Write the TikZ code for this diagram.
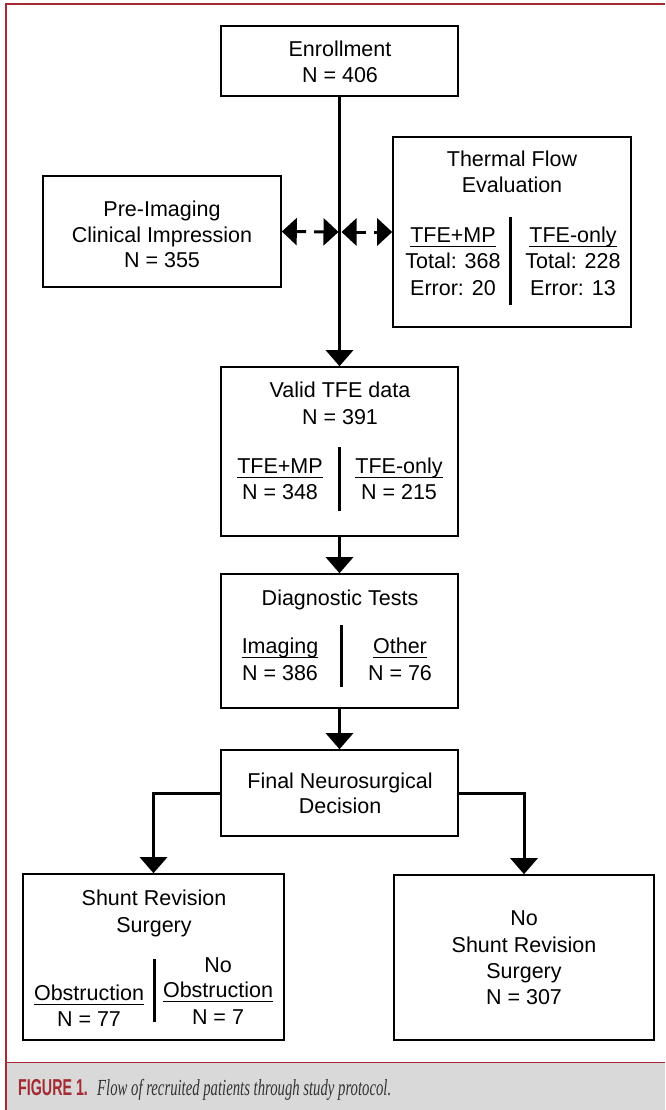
\documentclass[tikz,border=0pt]{standalone}
\usepackage{fontspec}
\setmainfont{Liberation Sans}
\newfontfamily\capserif{Liberation Serif}
\usetikzlibrary{arrows.meta}
\definecolor{jred}{HTML}{A52A33}
\definecolor{capgray}{HTML}{D9D9D9}
\definecolor{captext}{HTML}{333333}
\tikzset{
  box/.style={draw=black, line width=1.6pt, fill=white, inner sep=0pt},
  txt/.style={font=\fontsize{21.5}{26}\selectfont, anchor=base, inner sep=0pt},
  conn/.style={line width=3pt, -{Triangle[length=16pt,width=27pt]}},
  dbl/.style={line width=3pt, {Triangle[length=15pt,width=27pt]}-{Triangle[length=15pt,width=27pt]}, dash pattern=on 10pt off 8pt on 30pt},
  divider/.style={line width=3pt},
  ul/.style={line width=1.3pt}
}
\begin{document}
\begin{tikzpicture}[x=1pt,y=-1pt]
\useasboundingbox (0,0) rectangle (665,1110);
% frame and caption
\fill[capgray] (7,1062) rectangle (665,1110);
\draw[jred, line width=1pt] (7,1062) -- (665,1062);
\draw[jred, line width=2.5pt] (6,1110) -- (6,4) -- (665,4);
\node[anchor=base west, inner sep=0pt, text=jred] (figlab) at (18,1095)
  {\scalebox{0.62}[1]{\fontsize{23}{26}\selectfont\bfseries FIGURE 1.}};
\node[anchor=base west, inner sep=0pt, text=captext] (figcap) at (97,1095)
  {\scalebox{0.64}[1]{\capserif\itshape\fontsize{23}{26}\selectfont Flow of recruited patients through study protocol.}};

% boxes
\node[box, minimum width=237pt, minimum height=70pt] (enr) at (339.5,61) {};
\node[box, minimum width=238pt, minimum height=111pt] (pre) at (162,231.5) {};
\node[box, minimum width=238pt, minimum height=190pt] (tfe) at (512,232) {};
\node[box, minimum width=237pt, minimum height=169pt] (valid) at (339.5,451.5) {};
\node[box, minimum width=237pt, minimum height=134pt] (diag) at (339.5,641) {};
\node[box, minimum width=237pt, minimum height=86pt] (fin) at (339.5,793) {};
\node[box, minimum width=261pt, minimum height=166pt] (shunt) at (153.5,957) {};
\node[box, minimum width=260pt, minimum height=165pt] (noshunt) at (524,957.5) {};

% connectors
\coordinate (mid) at (340,232);
\draw[conn] (enr.south) -- (valid.north);
\draw[dbl, shorten >=1.5pt] (pre.east) -- (mid);
\draw[dbl, shorten <=1.5pt] (mid) -- (tfe.west |- mid);
\draw[conn] (valid.south) -- (diag.north);
\draw[conn] (diag.south) -- (fin.north);
\draw[conn] (fin.west) -| (shunt.north);
\draw[conn] (fin.east) -| (noshunt.north);

% Enrollment
\node[txt] (t1) at (340,57) {Enrollment};
\node[txt] (t2) at (340,83) {N = 406};
% Pre-imaging
\node[txt] (p1) at (162,216) {Pre-Imaging};
\node[txt] (p2) at (162,242) {Clinical Impression};
\node[txt] (p3) at (162,267) {N = 355};
% Thermal flow evaluation
\node[txt] (f1) at (512,167) {Thermal Flow};
\node[txt] (f2) at (512,193) {Evaluation};
\node[txt] (f3) at (453,242) {TFE+MP};
\node[txt] (f4) at (453,268) {Total: 368};
\node[txt] (f5) at (453,295) {Error: 20};
\node[txt] (f6) at (573,242) {TFE-only};
\node[txt] (f7) at (573,268) {Total: 228};
\node[txt] (f8) at (573,295) {Error: 13};
\draw[ul] ([yshift=-4.5pt]f3.base west) -- ([yshift=-4.5pt]f3.base east);
\draw[ul] ([yshift=-4.5pt]f6.base west) -- ([yshift=-4.5pt]f6.base east);
\coordinate (fd1) at (510,217); \coordinate (fd2) at (510,305);
\draw[divider] (fd1) -- (fd2);
% Valid TFE data
\node[txt] (v1) at (340,397) {Valid TFE data};
\node[txt] (v2) at (340,424) {N = 391};
\node[txt] (v3) at (280,473) {TFE+MP};
\node[txt] (v4) at (280,499) {N = 348};
\node[txt] (v5) at (399,473) {TFE-only};
\node[txt] (v6) at (399,499) {N = 215};
\draw[ul] ([yshift=-4.5pt]v3.base west) -- ([yshift=-4.5pt]v3.base east);
\draw[ul] ([yshift=-4.5pt]v5.base west) -- ([yshift=-4.5pt]v5.base east);
\coordinate (vd1) at (339,447); \coordinate (vd2) at (339,511);
\draw[divider] (vd1) -- (vd2);
% Diagnostic tests
\node[txt] (d1) at (340,605) {Diagnostic Tests};
\node[txt] (d2) at (280,653) {Imaging};
\node[txt] (d3) at (280,680) {N = 386};
\node[txt] (d4) at (400,653) {Other};
\node[txt] (d5) at (400,680) {N = 76};
\draw[ul] ([yshift=-4.5pt]d2.base west) -- ([yshift=-4.5pt]d2.base east);
\draw[ul] ([yshift=-4.5pt]d4.base west) -- ([yshift=-4.5pt]d4.base east);
\coordinate (dd1) at (341,625); \coordinate (dd2) at (341,687);
\draw[divider] (dd1) -- (dd2);
% Final decision
\node[txt] (n1) at (340,788) {Final Neurosurgical};
\node[txt] (n2) at (340,813) {Decision};
% Shunt revision
\node[txt] (s1) at (154,905) {Shunt Revision};
\node[txt] (s2) at (154,932) {Surgery};
\node[txt] (s3) at (89,1000) {Obstruction};
\node[txt] (s4) at (89,1026) {N = 77};
\node[txt] (s5) at (218,972) {No};
\node[txt] (s6) at (218,997) {Obstruction};
\node[txt] (s7) at (218,1024) {N = 7};
\draw[ul] ([yshift=-4.5pt]s3.base west) -- ([yshift=-4.5pt]s3.base east);
\draw[ul] ([yshift=-4.5pt]s6.base west) -- ([yshift=-4.5pt]s6.base east);
\coordinate (sd1) at (154,959); \coordinate (sd2) at (154,1022);
\draw[divider] (sd1) -- (sd2);
% No shunt revision
\node[txt] (r1) at (524,925) {No};
\node[txt] (r2) at (524,952) {Shunt Revision};
\node[txt] (r3) at (524,978) {Surgery};
\node[txt] (r4) at (524,1004) {N = 307};
\end{tikzpicture}
\end{document}
